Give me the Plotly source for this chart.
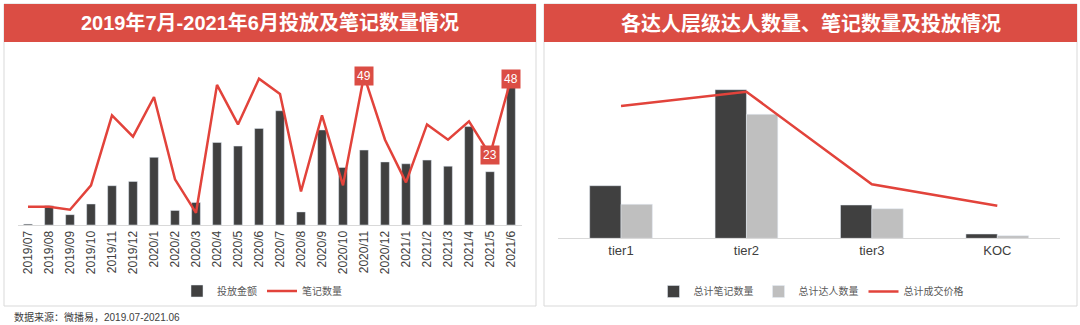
import plotly.graph_objects as go

W, H = 1080, 325

# ---------------- data ----------------
months = ["2019/07", "2019/08", "2019/09", "2019/10", "2019/11", "2019/12",
          "2020/1", "2020/2", "2020/3", "2020/4", "2020/5", "2020/6",
          "2020/7", "2020/8", "2020/9", "2020/10", "2020/11", "2020/12",
          "2021/1", "2021/2", "2021/3", "2021/4", "2021/5", "2021/6"]
spend = [3, 63, 34, 69, 129, 143, 222, 48, 74, 271, 259, 317,
         375, 43, 312, 189, 246, 207, 201, 213, 193, 323, 175, 465]
notes = [6, 6, 5, 13, 36, 29, 42, 15, 4, 46, 33, 48,
         43, 11, 36, 13, 49, 28, 14, 33, 28, 34, 23, 48]
labelled_months = ["2020/11", "2021/5", "2021/6"]

tiers = ["tier1", "tier2", "tier3", "KOC"]
tier_notes = [526, 1486, 333, 43]
tier_kols = [340, 1240, 296, 26]
tier_price = [1323, 1466, 540, 326]

title_left = "2019年7月-2021年6月投放及笔记数量情况"
title_right = "各达人层级达人数量、笔记数量及投放情况"
source_text = "数据来源：微播易，2019.07-2021.06"

# ---------------- styles ----------------
RED_T = "#DB4D44"
RED_L = "#E2433B"
DARK = "#404040"
LIGHT = "#BFBFBF"
GRID = "#D9D9D9"
FONT = "Liberation Sans, Noto Sans CJK SC, sans-serif"


def px_x(p):
    return p / W


def px_y(p):
    return 1 - p / H


fig = go.Figure()

# left chart
fig.add_trace(go.Bar(x=months, y=spend, name="投放金额", marker_color=DARK,
                     xaxis="x", yaxis="y", legend="legend"))
fig.add_trace(go.Scatter(x=months, y=notes, name="笔记数量", mode="lines",
                         line=dict(color=RED_L, width=2.5),
                         xaxis="x", yaxis="y2", legend="legend"))

# right chart
fig.add_trace(go.Bar(x=tiers, y=tier_notes, name="总计笔记数量", marker_color=DARK,
                     xaxis="x3", yaxis="y3", legend="legend2", offsetgroup="a"))
fig.add_trace(go.Bar(x=tiers, y=tier_kols, name="总计达人数量", marker_color=LIGHT,
                     xaxis="x3", yaxis="y3", legend="legend2", offsetgroup="b"))
fig.add_trace(go.Scatter(x=tiers, y=tier_price, name="总计成交价格", mode="lines",
                         line=dict(color=RED_L, width=2.5),
                         xaxis="x3", yaxis="y4", legend="legend2"))

left_dom_y = [px_y(225), px_y(225 - 55 * 3.047)]
right_dom_y = [px_y(238.3), px_y(58.3)]

fig.update_layout(
    width=W, height=H,
    margin=dict(l=0, r=0, t=0, b=0),
    paper_bgcolor="white", plot_bgcolor="white",
    font=dict(family=FONT, color=DARK),
    barmode="group",
    showlegend=True,
    xaxis=dict(domain=[px_x(17.5), px_x(521.5)], type="category",
               tickangle=-90, tickfont=dict(size=12, color=DARK),
               showline=True, linecolor=GRID, linewidth=1,
               ticks="", showgrid=False, fixedrange=True),
    yaxis=dict(domain=left_dom_y, range=[0, 550], visible=False,
               showgrid=False, fixedrange=True),
    yaxis2=dict(domain=left_dom_y, range=[0, 55], overlaying="y", visible=False,
                showgrid=False, fixedrange=True),
    xaxis3=dict(domain=[px_x(558.3), px_x(1060)], type="category", anchor="y3",
                tickfont=dict(size=13, color=DARK),
                showline=True, linecolor=GRID, linewidth=1,
                ticks="", showgrid=False, fixedrange=True),
    yaxis3=dict(domain=right_dom_y, range=[0, 1800], anchor="x3", visible=False,
                showgrid=False, fixedrange=True),
    yaxis4=dict(domain=right_dom_y, range=[0, 1800], anchor="x3", overlaying="y3",
                visible=False, showgrid=False, fixedrange=True),
    bargap=0.585,
    legend=dict(orientation="h", x=px_x(262), y=px_y(291), xanchor="center",
                yanchor="middle", font=dict(size=10, color="#595959"),
                bgcolor="rgba(0,0,0,0)", itemwidth=30, tracegroupgap=0),
    legend2=dict(orientation="h", x=px_x(811), y=px_y(291.5), xanchor="center",
                 yanchor="middle", font=dict(size=10, color="#595959"),
                 bgcolor="rgba(0,0,0,0)", itemwidth=30, tracegroupgap=0),
)

# right chart bar gap is different: use per-trace width via separate layout not possible,
# so set widths on the right bars explicitly (fraction of category)
fig.data[2].width = 0.25
fig.data[3].width = 0.25
fig.data[2].offset = -0.25
fig.data[3].offset = 0.0

# panels and title bars
shapes = []
for x0, x1 in [(4, 536), (544, 1077)]:
    shapes.append(dict(type="rect", xref="paper", yref="paper",
                       x0=px_x(x0), x1=px_x(x1), y0=px_y(306), y1=px_y(4),
                       line=dict(color=GRID, width=1), fillcolor="rgba(0,0,0,0)",
                       layer="below"))
    shapes.append(dict(type="rect", xref="paper", yref="paper",
                       x0=px_x(x0), x1=px_x(x1), y0=px_y(42), y1=px_y(4),
                       line=dict(width=0), fillcolor=RED_T, layer="below"))
fig.update_layout(shapes=shapes)

annotations = [
    dict(text="<b>" + title_left + "</b>", xref="paper", yref="paper",
         x=px_x(270), y=px_y(23), xanchor="center", yanchor="middle",
         showarrow=False, font=dict(size=20, color="white", family=FONT)),
    dict(text="<b>" + title_right + "</b>", xref="paper", yref="paper",
         x=px_x(810.5), y=px_y(23), xanchor="center", yanchor="middle",
         showarrow=False, font=dict(size=20, color="white", family=FONT)),
    dict(text=source_text, xref="paper", yref="paper",
         x=px_x(12), y=px_y(316.5), xanchor="left", yanchor="middle",
         showarrow=False, font=dict(size=10, color=DARK, family=FONT)),
]
for m in labelled_months:
    i = months.index(m)
    annotations.append(dict(text=str(notes[i]), x=m, y=notes[i], xref="x", yref="y2",
                            xanchor="center", yanchor="middle", showarrow=False,
                            bgcolor=RED_T, borderpad=2,
                            font=dict(size=12, color="white", family=FONT)))
fig.update_layout(annotations=annotations)

fig.write_html("out.html")
